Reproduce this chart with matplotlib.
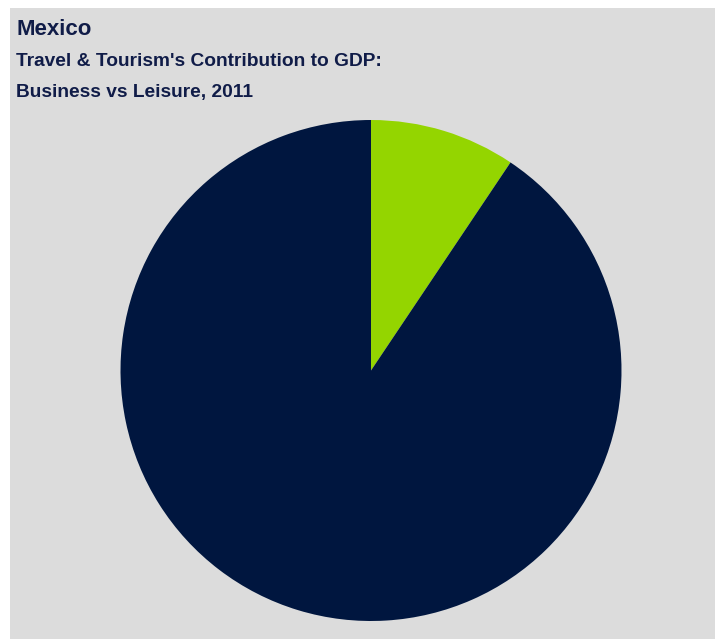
import matplotlib.pyplot as plt
from matplotlib.patches import Rectangle

labels = ['Business', 'Leisure']
shares = [9.4, 90.6]
colors = ['#94d500', '#00163f']

W, H = 715, 639
fig = plt.figure(figsize=(W / 100, H / 100), dpi=100)
fig.patch.set_facecolor('white')

# grey panel behind everything
fig.patches.append(Rectangle((10 / W, 0), 1 - 10 / W, 1 - 8 / H,
                             transform=fig.transFigure, facecolor='#dcdcdc',
                             edgecolor='none', zorder=-1))

# pie centred at (371, 370) px with radius ~250 px
r = 250.5
cx, cy = 371, 370.5
ax = fig.add_axes([(cx - r) / W, (H - cy - r) / H, 2 * r / W, 2 * r / H])
ax.set_zorder(1)
ax.pie(shares, labels=None, colors=colors, startangle=90, counterclock=False,
       wedgeprops=dict(linewidth=0))
ax.set_xlim(-1, 1)
ax.set_ylim(-1, 1)
ax.set_aspect('equal')
ax.axis('off')

tc = '#101c48'
fig.text(17 / W, 1 - 35 / H, 'Mexico', fontsize=16, fontweight='bold',
         color=tc, family='Liberation Sans', va='baseline')
fig.text(16 / W, 1 - 66 / H, "Travel & Tourism's Contribution to GDP:",
         fontsize=13.8, fontweight='bold', color=tc, family='Liberation Sans',
         va='baseline')
fig.text(16 / W, 1 - 97 / H, 'Business vs Leisure, 2011', fontsize=13.8,
         fontweight='bold', color=tc, family='Liberation Sans', va='baseline')

fig.savefig('out.png', dpi=100)
